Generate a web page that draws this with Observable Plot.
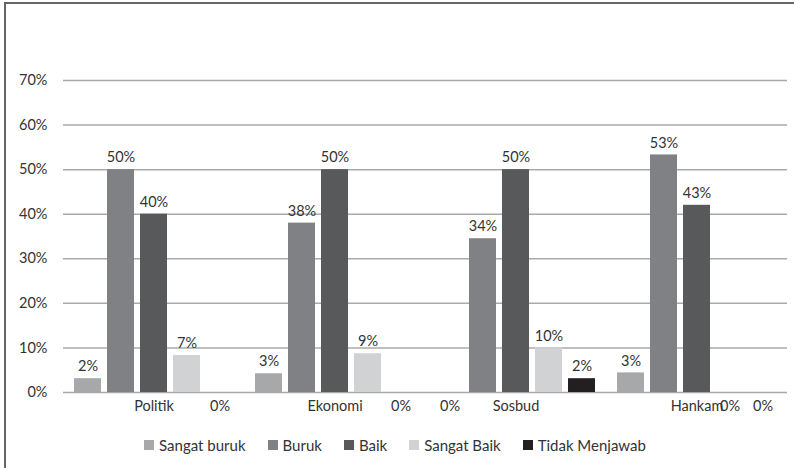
<!DOCTYPE html>
<html>
<head>
<meta charset="utf-8">
<script src="https://cdn.jsdelivr.net/npm/d3@7"></script>
<script src="https://cdn.jsdelivr.net/npm/@observablehq/plot@0.6"></script>
<style>
  html, body { margin: 0; padding: 0; background: #fff; }
  #wrap { position: relative; width: 794px; height: 468px; overflow: hidden; font-family: Lato, "Open Sans", sans-serif; }
  #frame { position: absolute; left: 4px; top: 2px; width: 800px; height: 480px; border-left: 2px solid #666; border-top: 2px solid #666; pointer-events: none; }
  #chart { position: absolute; left: 0; top: 0; }
  #legend { position: absolute; left: 0; width: 790px; top: 436px; display: flex; justify-content: center; gap: 22px; font-size: 15px; color: #333; }
  .item { display: flex; align-items: center; gap: 5px; white-space: nowrap; }
  .sw { width: 10px; height: 10px; display: inline-block; }
</style>
</head>
<body>
<div id="wrap">
  <div id="chart"></div>
  <div id="legend"></div>
  <div id="frame"></div>
</div>
<script>
const categories = ["Politik", "Ekonomi", "Sosbud", "Hankam"];
const series = ["Sangat buruk", "Buruk", "Baik", "Sangat Baik", "Tidak Menjawab"];
const colors = ["#a7a8aa", "#808184", "#58595b", "#d1d2d4", "#231f20"];
const yTicks = [0, 10, 20, 30, 40, 50, 60, 70];

// bar heights (percent), per series, in category order
const sangatBuruk   = [3.1, 4.2, 0, 4.4];
const buruk         = [50, 38, 34.5, 53.3];
const baik          = [40, 50, 50, 42];
const sangatBaik    = [8.3, 8.7, 10, 0];
const tidakMenjawab = [0, 0, 3.1, 0];

// printed data labels
const sangatBurukLbl   = ["2%", "3%", "0%", "3%"];
const burukLbl         = ["50%", "38%", "34%", "53%"];
const baikLbl          = ["40%", "50%", "50%", "43%"];
const sangatBaikLbl    = ["7%", "9%", "10%", "0%"];
const tidakMenjawabLbl = ["0%", "0%", "2%", "0%"];

const valueSets = [sangatBuruk, buruk, baik, sangatBaik, tidakMenjawab];
const labelSets = [sangatBurukLbl, burukLbl, baikLbl, sangatBaikLbl, tidakMenjawabLbl];

const data = [];
categories.forEach((c, ci) => {
  series.forEach((s, si) => {
    data.push({cat: c, series: s, value: valueSets[si][ci], label: labelSets[si][ci]});
  });
});

const FS = 14.5;
const chart = Plot.plot({
  width: 794,
  height: 468,
  marginTop: 80,
  marginBottom: 76,
  marginLeft: 62,
  marginRight: 6,
  style: {fontFamily: "Lato, 'Open Sans', sans-serif", fontSize: FS + "px", color: "#333", background: "transparent"},
  fx: {domain: categories, padding: 0, label: null},
  x: {domain: series, paddingInner: 0.18, paddingOuter: 0.33, axis: null},
  y: {domain: [0, 70], label: null},
  color: {domain: series, range: colors},
  marks: [
    Plot.ruleY(yTicks, {stroke: "#aaaaaa", strokeWidth: 1.5}),
    Plot.barY(data, {fx: "cat", x: "series", y: "value", fill: "series"}),
    Plot.text(data.filter(d => d.value > 0), {fx: "cat", x: "series", y: "value", text: "label", dy: -12, fill: "#333", fontSize: FS}),
    Plot.text(data.filter(d => d.value === 0), {fx: "cat", x: "series", y: "value", text: "label", dy: 14, fill: "#333", fontSize: FS}),
    Plot.axisY({ticks: yTicks, tickFormat: d => d + "%", tickSize: 0, tickPadding: 16, label: null, fontSize: FS, fill: "#333"}),
    Plot.axisFx({anchor: "bottom", tickSize: 0, tickPadding: 8, label: null, fontSize: FS, fill: "#333"})
  ]
});
document.getElementById("chart").appendChild(chart);

const legend = document.getElementById("legend");
series.forEach((s, i) => {
  const item = document.createElement("div");
  item.className = "item";
  const sw = document.createElement("span");
  sw.className = "sw";
  sw.style.background = colors[i];
  const t = document.createElement("span");
  t.textContent = s;
  item.appendChild(sw);
  item.appendChild(t);
  legend.appendChild(item);
});
</script>
</body>
</html>
